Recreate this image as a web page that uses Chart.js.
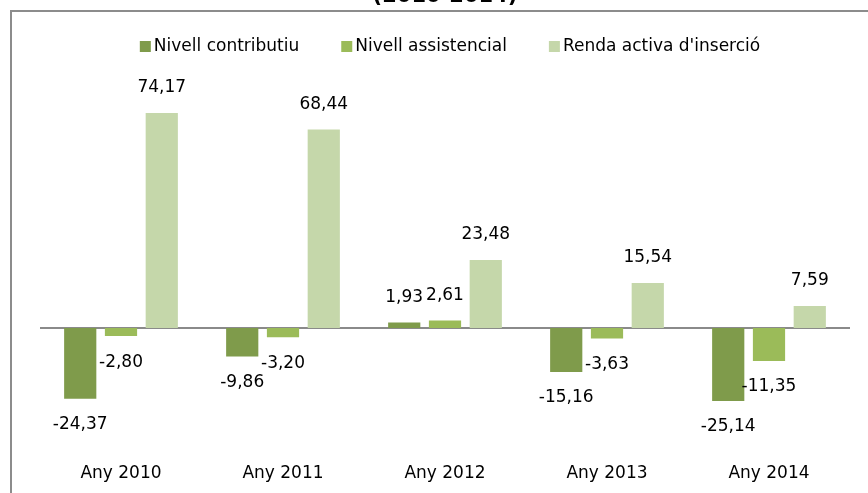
<!DOCTYPE html>
<html>
<head>
<meta charset="utf-8">
<script src="https://cdn.jsdelivr.net/npm/chart.js@4/dist/chart.umd.min.js"></script>
<style>
  html, body { margin: 0; padding: 0; background: #fff; }
  #wrap { width: 868px; height: 493px; position: relative; }
</style>
</head>
<body>
<div id="wrap"><canvas id="barChart"></canvas></div>
<script>
const years = ["Any 2010", "Any 2011", "Any 2012", "Any 2013", "Any 2014"];
const contributiu = [-24.37, -9.86, 1.93, -15.16, -25.14];
const assistencial = [-2.80, -3.20, 2.61, -3.63, -11.35];
const rai = [74.17, 68.44, 23.48, 15.54, 7.59];

const FONT = "'DejaVu Sans', sans-serif";

// frame, the clipped title line and the legend row
const framePlugin = {
  id: "frame",
  beforeDraw(chart) {
    const ctx = chart.ctx;
    ctx.save();
    ctx.strokeStyle = "#8c8c8c";
    ctx.lineWidth = 2;
    ctx.strokeRect(11, 11, 1000, 1000);

    ctx.fillStyle = "#000";
    ctx.font = "bold 21px " + FONT;
    ctx.textAlign = "center";
    ctx.textBaseline = "alphabetic";
    ctx.fillText("(2010-2014)", 445, 1.5);

    // legend: square, small gap, label; items centred on the plot
    ctx.font = "17px " + FONT;
    ctx.textAlign = "left";
    ctx.textBaseline = "middle";
    const box = 11, gap = 3, itemGap = 42;
    const items = chart.data.datasets.map((ds) => ({
      text: ds.label,
      color: ds.backgroundColor,
      w: box + gap + ctx.measureText(ds.label).width,
    }));
    const total = items.reduce((s, it) => s + it.w, 0) + itemGap * (items.length - 1);
    let x = 450 - total / 2;
    items.forEach((it) => {
      ctx.fillStyle = it.color;
      ctx.fillRect(x, 41, box, box);
      ctx.fillStyle = "#000";
      ctx.fillText(it.text, x + box + gap, 47);
      x += it.w + itemGap;
    });
    ctx.restore();
  },
};

// zero line + value labels
const valuePlugin = {
  id: "values",
  beforeDatasetsDraw(chart) {
    const ctx = chart.ctx;
    const y0 = chart.scales.y.getPixelForValue(0);
    ctx.save();
    ctx.strokeStyle = "#8a8a8a";
    ctx.lineWidth = 2;
    ctx.beginPath();
    ctx.moveTo(chart.chartArea.left, y0);
    ctx.lineTo(chart.chartArea.right, y0);
    ctx.stroke();
    ctx.restore();
  },
  afterDatasetsDraw(chart) {
    const ctx = chart.ctx;
    ctx.save();
    ctx.fillStyle = "#000";
    ctx.font = "17px " + FONT;
    ctx.textAlign = "center";
    ctx.textBaseline = "middle";
    chart.data.datasets.forEach((ds, i) => {
      chart.getDatasetMeta(i).data.forEach((bar, j) => {
        const v = ds.data[j];
        const y = v >= 0 ? bar.y - 25 : bar.y + 26;
        ctx.fillText(v.toFixed(2).replace(".", ","), bar.x, y);
      });
    });
    ctx.restore();
  },
};

const ctxBar = document.getElementById("barChart").getContext("2d");
new Chart(ctxBar, {
  type: "bar",
  data: {
    labels: years,
    datasets: [
      { label: "Nivell contributiu", data: contributiu, backgroundColor: "#7f9b4b" },
      { label: "Nivell assistencial", data: assistencial, backgroundColor: "#9bbb59" },
      { label: "Renda activa d'inserció", data: rai, backgroundColor: "#c5d7aa" },
    ],
  },
  options: {
    responsive: true,
    maintainAspectRatio: false,
    animation: false,
    categoryPercentage: 0.755,
    barPercentage: 0.79,
    layout: { padding: { left: 40, right: 18, top: 67, bottom: 9 } },
    plugins: {
      title: { display: false },
      tooltip: { enabled: false },
      legend: { display: false },
    },
    scales: {
      x: {
        grid: { display: false, drawTicks: false },
        border: { display: false },
        ticks: { color: "#000", font: { family: FONT, size: 17 }, padding: 19 },
        afterFit(scale) {
          scale.height = 40;
        },
      },
      y: {
        display: false,
        min: -40,
        max: 90,
      },
    },
  },
  plugins: [framePlugin, valuePlugin],
});
</script>
</body>
</html>
